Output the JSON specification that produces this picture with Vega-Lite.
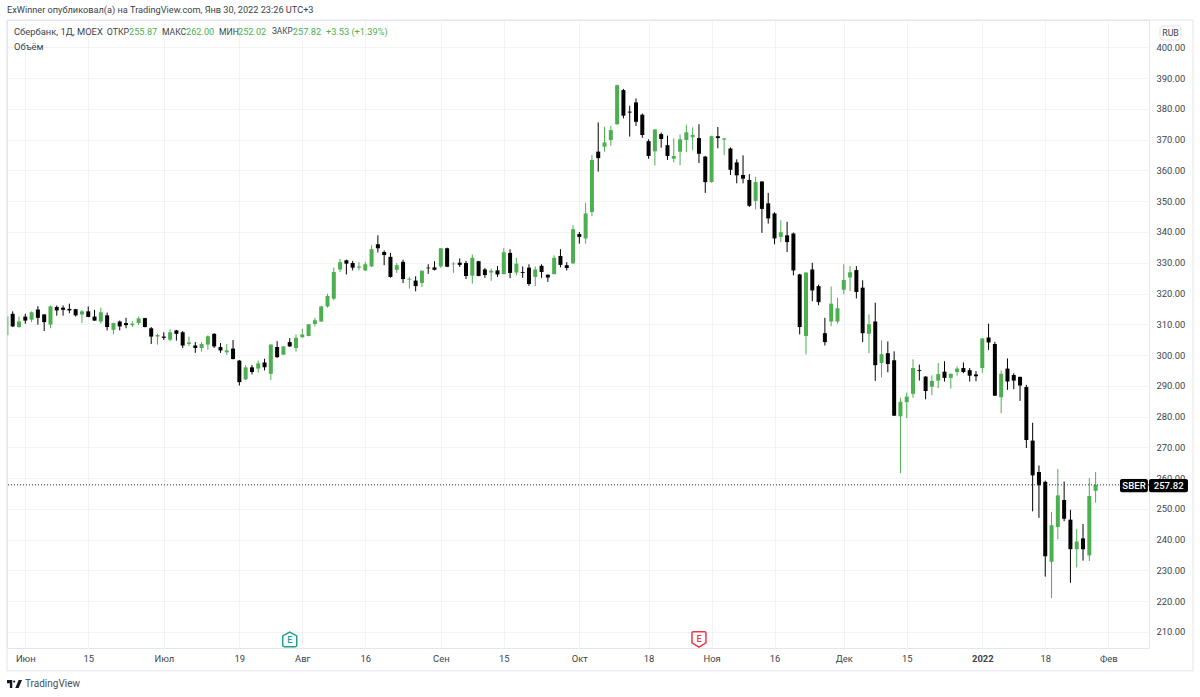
{"$schema":"https://vega.github.io/schema/vega-lite/v6.json","width":1142,"height":628,"autosize":{"type":"none"},"padding":{"left":7,"top":20,"right":51,"bottom":49},"background":"#ffffff","config":{"view":{"stroke":"#e3e5ec","strokeWidth":1},"font":"Roboto"},
"title":{"text":"ExWinner опубликовал(а) на TradingView.com, Янв 30, 2022 23:26 UTC+3","anchor":"start","frame":"group","offset":4,"fontSize":9.2,"fontWeight":"normal","color":"#3c3f4a","font":"Roboto"},
"datasets":{"one":[{}]},
"data":{"values":[
{"bar":0,"open":306.4,"high":312.6,"low":306.4,"close":312.5},
{"bar":1,"open":313.4,"high":314.2,"low":309.1,"close":309.3},{"bar":2,"open":309.1,"high":312.5,"low":308.9,"close":310.9},{"bar":3,"open":312.5,"high":313.4,"low":310.2,"close":311.2},{"bar":4,"open":311.5,"high":314.2,"low":310.7,"close":313.9},{"bar":5,"open":314.8,"high":315.9,"low":309.9,"close":312.1},{"bar":6,"open":313.2,"high":313.3,"low":307.8,"close":310.7},{"bar":7,"open":309.9,"high":316.1,"low":308.7,"close":315.8},{"bar":8,"open":315.6,"high":316.1,"low":312.8,"close":314.5},{"bar":9,"open":315.4,"high":316.1,"low":312.8,"close":314.7},{"bar":10,"open":315,"high":316.7,"low":313.6,"close":314.5},
{"bar":11,"open":314.9,"high":315,"low":312.5,"close":312.9},{"bar":12,"open":313.2,"high":314.7,"low":310.4,"close":314.2},{"bar":13,"open":314.2,"high":315.8,"low":312.3,"close":312.4},{"bar":14,"open":312.5,"high":314.7,"low":311.1,"close":311.2},{"bar":15,"open":310.9,"high":315.4,"low":310.2,"close":313.9},{"bar":16,"open":312.9,"high":313.8,"low":308,"close":309.1},{"bar":17,"open":308.2,"high":310.5,"low":306.7,"close":310.4},{"bar":18,"open":310.9,"high":311.2,"low":308,"close":309.3},{"bar":19,"open":310.4,"high":312.1,"low":308.7,"close":309.7},{"bar":20,"open":309.7,"high":311,"low":309.1,"close":310.2},
{"bar":21,"open":310.4,"high":312.5,"low":309.8,"close":311.9},{"bar":22,"open":312,"high":312.1,"low":309,"close":309.1},{"bar":23,"open":308.7,"high":309.1,"low":303.6,"close":306},{"bar":24,"open":306,"high":306.9,"low":303.4,"close":306.5},{"bar":25,"open":306,"high":307.4,"low":304.9,"close":305.6},{"bar":26,"open":305,"high":308.4,"low":304.5,"close":307.4},{"bar":27,"open":308,"high":308.2,"low":304.7,"close":306.9},{"bar":28,"open":307.4,"high":307.8,"low":302.3,"close":303.1},{"bar":29,"open":303.6,"high":306,"low":302.9,"close":304.1},{"bar":30,"open":303.1,"high":304.2,"low":300.7,"close":302.3},
{"bar":31,"open":302.3,"high":304.2,"low":301.1,"close":303.6},{"bar":32,"open":303.4,"high":306.4,"low":301.7,"close":306.1},{"bar":33,"open":306.9,"high":307.1,"low":302.3,"close":302.8},{"bar":34,"open":302.6,"high":303.9,"low":300.7,"close":301.5},{"bar":35,"open":300.9,"high":303.6,"low":300.1,"close":301.5},{"bar":36,"open":302.1,"high":304.9,"low":298.6,"close":298.7},{"bar":37,"open":298.2,"high":298.4,"low":290.1,"close":291.2},{"bar":38,"open":292.1,"high":296.8,"low":291.9,"close":296},{"bar":39,"open":296,"high":296.8,"low":293.7,"close":294.5},{"bar":40,"open":295.6,"high":298.2,"low":294.3,"close":297.3},
{"bar":41,"open":297.6,"high":298.8,"low":295,"close":296},{"bar":42,"open":293.9,"high":303.5,"low":291.9,"close":303.4},{"bar":43,"open":302.6,"high":304.5,"low":299.1,"close":299.3},{"bar":44,"open":300.1,"high":302.9,"low":300,"close":302.8},{"bar":45,"open":304.2,"high":305.5,"low":302.6,"close":302.8},{"bar":46,"open":302.3,"high":306.7,"low":301.1,"close":305.6},{"bar":47,"open":305.8,"high":308.5,"low":305.6,"close":306.7},{"bar":48,"open":306.2,"high":310.1,"low":306.1,"close":310},{"bar":49,"open":310.1,"high":312.1,"low":309.3,"close":311.3},{"bar":50,"open":310.9,"high":316,"low":310.8,"close":315.8},
{"bar":51,"open":315.8,"high":319.9,"low":315.4,"close":319.2},{"bar":52,"open":318.3,"high":328.4,"low":317.8,"close":327},{"bar":53,"open":327.8,"high":331.3,"low":327,"close":330.2},{"bar":54,"open":330.8,"high":331,"low":326.2,"close":329.7},{"bar":55,"open":329.9,"high":330.6,"low":327.5,"close":328.4},{"bar":56,"open":328.4,"high":330.2,"low":327.5,"close":328.8},{"bar":57,"open":327.5,"high":330.3,"low":327.3,"close":329.5},{"bar":58,"open":328.8,"high":335.7,"low":328.6,"close":334.4},{"bar":59,"open":336,"high":338.9,"low":333.3,"close":334.7},{"bar":60,"open":333.5,"high":334,"low":329.2,"close":332.5},
{"bar":61,"open":331.9,"high":333.2,"low":325.1,"close":325.4},{"bar":62,"open":327.7,"high":329.9,"low":326.7,"close":329.2},{"bar":63,"open":330.3,"high":331,"low":323.4,"close":324.7},{"bar":64,"open":324.5,"high":325.4,"low":321.6,"close":324.8},{"bar":65,"open":324.2,"high":325.6,"low":320.7,"close":322.4},{"bar":66,"open":323.4,"high":327.5,"low":322.1,"close":327.4},{"bar":67,"open":328.4,"high":329.5,"low":326.4,"close":328.2},{"bar":68,"open":328.5,"high":330.5,"low":327.5,"close":327.7},{"bar":69,"open":328.8,"high":334.8,"low":328.3,"close":334.7},{"bar":70,"open":334.7,"high":334.9,"low":328.6,"close":328.7},
{"bar":71,"open":329.5,"high":330.2,"low":326.7,"close":329.7},{"bar":72,"open":330,"high":331.4,"low":328.6,"close":329.3},{"bar":73,"open":329.9,"high":330.6,"low":324.7,"close":325.7},{"bar":74,"open":325.8,"high":332.7,"low":323.2,"close":331.6},{"bar":75,"open":330.5,"high":330.6,"low":325.6,"close":325.7},{"bar":76,"open":327.8,"high":328.3,"low":325.1,"close":326},{"bar":77,"open":326.8,"high":328.1,"low":324.1,"close":327.4},{"bar":78,"open":327.5,"high":328.9,"low":325.4,"close":326.2},{"bar":79,"open":326.3,"high":334.7,"low":326.2,"close":333.4},{"bar":80,"open":333.2,"high":334.4,"low":325,"close":326.7},
{"bar":81,"open":326.8,"high":331.6,"low":325.9,"close":329.7},{"bar":82,"open":327,"high":328.8,"low":325.1,"close":326.7},{"bar":83,"open":328.4,"high":329.5,"low":322.5,"close":323.1},{"bar":84,"open":325.4,"high":328.8,"low":322.4,"close":327.8},{"bar":85,"open":329,"high":329.5,"low":325.1,"close":327},{"bar":86,"open":326.1,"high":326.2,"low":323.8,"close":325.2},{"bar":87,"open":326.3,"high":332.4,"low":326.2,"close":331.6},{"bar":88,"open":332.2,"high":334.4,"low":328.5,"close":329.3},{"bar":89,"open":329.2,"high":330.2,"low":327.5,"close":328.3},{"bar":90,"open":329.8,"high":342.2,"low":329.6,"close":340.9},
{"bar":91,"open":339.3,"high":340,"low":336.2,"close":338.4},{"bar":92,"open":337.9,"high":349.5,"low":336.2,"close":346},{"bar":93,"open":346.5,"high":365,"low":345.1,"close":363.4},{"bar":94,"open":366.1,"high":375.6,"low":359.6,"close":364},{"bar":95,"open":367.7,"high":374.2,"low":366.1,"close":369.1},{"bar":96,"open":369.9,"high":374.5,"low":368,"close":373.1},{"bar":97,"open":375,"high":387.9,"low":374.9,"close":387.7},{"bar":98,"open":386.1,"high":386.5,"low":376.9,"close":377.8},{"bar":99,"open":379.1,"high":381,"low":371,"close":378.8},{"bar":100,"open":382.1,"high":383.4,"low":374.5,"close":375.8},
{"bar":101,"open":378.1,"high":378.5,"low":370.6,"close":371.5},{"bar":102,"open":369.5,"high":370.1,"low":363.8,"close":364.7},{"bar":103,"open":366.2,"high":373.4,"low":361.6,"close":373.3},{"bar":104,"open":371.8,"high":372.3,"low":367.4,"close":370.2},{"bar":105,"open":368.2,"high":371.3,"low":363.4,"close":364.7},{"bar":106,"open":363.8,"high":370.4,"low":362.6,"close":364.7},{"bar":107,"open":366.1,"high":371.7,"low":361.7,"close":370.1},{"bar":108,"open":369.9,"high":374.8,"low":365.9,"close":372.4},{"bar":109,"open":370.8,"high":374,"low":366.6,"close":371.5},{"bar":110,"open":370.5,"high":375,"low":362.4,"close":365.4},
{"bar":111,"open":364.5,"high":364.7,"low":352.7,"close":356.2},{"bar":112,"open":356.2,"high":371.3,"low":356,"close":371.1},{"bar":113,"open":371.1,"high":374.1,"low":367.2,"close":370.5},{"bar":114,"open":370,"high":370.5,"low":365,"close":370.4},{"bar":115,"open":367.1,"high":367.5,"low":358.5,"close":360.2},{"bar":116,"open":362.6,"high":363.6,"low":355.8,"close":358.4},{"bar":117,"open":358.5,"high":364.9,"low":355.8,"close":357.3},{"bar":118,"open":356.9,"high":358.8,"low":348.1,"close":348.5},{"bar":119,"open":350.1,"high":357.9,"low":347.3,"close":356.2},{"bar":120,"open":356.4,"high":356.5,"low":339.7,"close":347.5},
{"bar":121,"open":349.3,"high":352.7,"low":342.7,"close":344.4},{"bar":122,"open":346,"high":346.4,"low":336,"close":337.9},{"bar":123,"open":338.4,"high":343.8,"low":336.7,"close":339.9},{"bar":124,"open":338.9,"high":343.3,"low":333.5,"close":336.7},{"bar":125,"open":339.5,"high":339.8,"low":325.9,"close":327.5},{"bar":126,"open":326.2,"high":326.4,"low":306.7,"close":309.1},{"bar":127,"open":306.2,"high":327,"low":300.2,"close":326.8},{"bar":128,"open":327.8,"high":330,"low":317.5,"close":321},{"bar":129,"open":322.4,"high":322.9,"low":316.2,"close":317.2},{"bar":130,"open":307.1,"high":312.1,"low":303.1,"close":304.2},
{"bar":131,"open":310.9,"high":322.3,"low":309.4,"close":316.7},{"bar":132,"open":310.9,"high":318.6,"low":310.2,"close":315.2},{"bar":133,"open":321.2,"high":329.5,"low":319.7,"close":324.4},{"bar":134,"open":325.2,"high":328.9,"low":320.8,"close":326.9},{"bar":135,"open":327.6,"high":328.9,"low":318.4,"close":320.5},{"bar":136,"open":321.9,"high":324.3,"low":304.2,"close":307.1},{"bar":137,"open":306.9,"high":313.2,"low":300.6,"close":310},{"bar":138,"open":310.9,"high":317,"low":291.6,"close":296.7},{"bar":139,"open":297.4,"high":304.8,"low":292.7,"close":300.3},{"bar":140,"open":300.6,"high":304.4,"low":294.4,"close":297.1},
{"bar":141,"open":298.3,"high":301.2,"low":280.2,"close":280.3},{"bar":142,"open":280.1,"high":286.1,"low":261.6,"close":284.8},{"bar":143,"open":284.7,"high":287.8,"low":279.5,"close":286.5},{"bar":144,"open":287.4,"high":298.6,"low":286.1,"close":295.8},{"bar":145,"open":295.1,"high":296.9,"low":291.7,"close":294.8},{"bar":146,"open":293,"high":293.1,"low":285.6,"close":288.3},{"bar":147,"open":289.7,"high":293.4,"low":286.9,"close":291.6},{"bar":148,"open":291.7,"high":297.4,"low":289.3,"close":293.8},{"bar":149,"open":294.6,"high":298,"low":291.4,"close":292.6},{"bar":150,"open":292.6,"high":294,"low":289.1,"close":293.9},
{"bar":151,"open":294.5,"high":296.3,"low":293.3,"close":295.6},{"bar":152,"open":295.8,"high":297.6,"low":294.1,"close":294.5},{"bar":153,"open":295.1,"high":295.8,"low":291.4,"close":293.3},{"bar":154,"open":293.7,"high":294.8,"low":291.5,"close":293.1},{"bar":155,"open":295.8,"high":305.5,"low":294.2,"close":305.4},{"bar":156,"open":305.7,"high":310.2,"low":301.7,"close":304.1},{"bar":157,"open":303.6,"high":304.3,"low":286.7,"close":286.8},{"bar":158,"open":286.3,"high":295,"low":281.1,"close":293.9},{"bar":159,"open":295.6,"high":298.9,"low":288.7,"close":291.4},{"bar":160,"open":293.5,"high":294.1,"low":288.9,"close":291.7},
{"bar":161,"open":292.9,"high":293,"low":285.1,"close":290.1},{"bar":162,"open":289.6,"high":290.3,"low":269.8,"close":272.4},{"bar":163,"open":272.2,"high":278,"low":249.2,"close":260.9},{"bar":164,"open":262,"high":264.1,"low":247.1,"close":257.7},{"bar":165,"open":258.8,"high":259.2,"low":228,"close":234.6},{"bar":166,"open":232.8,"high":249,"low":221,"close":244.7},{"bar":167,"open":244.1,"high":263,"low":240.1,"close":254.4},{"bar":168,"open":252.9,"high":258.9,"low":246,"close":246.8},{"bar":169,"open":246.5,"high":249.7,"low":226,"close":236.9},{"bar":170,"open":236.9,"high":243.5,"low":231,"close":239.4},
{"bar":171,"open":240.4,"high":245.1,"low":233.2,"close":236.9},{"bar":172,"open":234.9,"high":260,"low":233.1,"close":254.2},{"bar":173,"open":255.87,"high":262,"low":252.02,"close":257.82}
]},
"layer":[
{"mark":{"type":"rule","clip":true,"strokeWidth":1},"encoding":{
"x":{"field":"bar","type":"quantitative","title":null,"scale":{"domain":[0.095,181.48],"nice":false,"zero":false,"padding":0},"axis":{"values":[3,13,25,37,47,57,69,79,91,102,112,122,133,143,155,165,175],"tickCount":40,"labelExpr":"{'3':'Июн','13':'15','25':'Июл','37':'19','47':'Авг','57':'16','69':'Сен','79':'15','91':'Окт','102':'18','112':'Ноя','122':'16','133':'Дек','143':'15','155':'2022','165':'18','175':'Фев'}[''+datum.value]","grid":true,"gridColor":"#f3f3f6","gridWidth":1,"domain":false,"ticks":false,"labelPadding":6,"labelFontSize":9.4,"labelColor":"#3c3f4a","labelFont":"Roboto","labelFontWeight":{"condition":{"test":"datum.value==155","value":"bold"},"value":"normal"},"labelOverlap":false,"labelFlush":false}},
"y":{"field":"low","type":"quantitative","title":null,"scale":{"domain":[204.8,408.88],"nice":false,"zero":false},"axis":{"orient":"right","values":[210,220,230,240,250,260,270,280,290,300,310,320,330,340,350,360,370,380,390,400],"tickCount":40,"format":".2f","grid":true,"gridColor":"#f3f3f6","gridWidth":1,"domain":false,"ticks":false,"labelPadding":7,"labelFontSize":9.4,"labelColor":"#3c3f4a","labelFont":"Roboto","labelOverlap":false,"labelFlush":false}},
"y2":{"field":"high"},
"color":{"condition":{"test":"datum.close>=datum.open","value":"#4caf50"},"value":"#000000"}}},
{"mark":{"type":"bar","size":4,"clip":true},"encoding":{"x":{"field":"bar","type":"quantitative"},"y":{"field":"open","type":"quantitative"},"y2":{"field":"close"},"color":{"condition":{"test":"datum.close>=datum.open","value":"#4caf50"},"value":"#000000"}}},
{"data":{"name":"one"},"mark":{"type":"rule","stroke":"#2a2e39","strokeDash":[1,2],"strokeWidth":1},"encoding":{"y":{"datum":257.82,"type":"quantitative"}}},
{"data":{"name":"one"},"mark":{"type":"rect","fill":null,"stroke":"#e3e5ec","strokeWidth":1},"encoding":{"x":{"datum":0.095,"type":"quantitative"},"x2":{"datum":188.47},"y":{"datum":197.4,"type":"quantitative"},"y2":{"datum":408.88}}},
{"data":{"name":"one"},"mark":{"type":"rect","fill":"#000000","cornerRadius":2},"encoding":{"x":{"datum":176.87,"type":"quantitative"},"x2":{"datum":181.3},"y":{"datum":255.4,"type":"quantitative"},"y2":{"datum":259.75}}},
{"data":{"name":"one"},"mark":{"type":"rect","fill":"#000000","cornerRadius":2},"encoding":{"x":{"datum":181.48,"type":"quantitative"},"x2":{"datum":187.67},"y":{"datum":255.4,"type":"quantitative"},"y2":{"datum":259.75}}},
{"data":{"name":"one"},"mark":{"type":"text","color":"#ffffff","fontSize":9.6,"font":"Roboto","fontWeight":500},"encoding":{"x":{"datum":179.1,"type":"quantitative"},"y":{"datum":257.6,"type":"quantitative"},"text":{"value":"SBER"}}},
{"data":{"name":"one"},"mark":{"type":"text","color":"#ffffff","fontSize":9.6,"font":"Roboto","fontWeight":500},"encoding":{"x":{"datum":184.6,"type":"quantitative"},"y":{"datum":257.6,"type":"quantitative"},"text":{"value":"257.82"}}},
{"data":{"name":"one"},"mark":{"type":"rect","fill":"#ffffff","stroke":"#e0e3eb","strokeWidth":1,"cornerRadius":3},"encoding":{"x":{"datum":183.23,"type":"quantitative"},"x2":{"datum":186.56},"y":{"datum":402.38,"type":"quantitative"},"y2":{"datum":406.93}}},
{"data":{"name":"one"},"mark":{"type":"text","color":"#3c3f4a","fontSize":8.8,"font":"Roboto"},"encoding":{"x":{"datum":184.9,"type":"quantitative"},"y":{"datum":404.65,"type":"quantitative"},"text":{"value":"RUB"}}},
{"data":{"name":"one"},"mark":{"type":"text","align":"left","color":"#3c3f4a","fontSize":9.4,"font":"Roboto"},"encoding":{"x":{"datum":1.21,"type":"quantitative"},"y":{"datum":404.98,"type":"quantitative"},"text":{"value":"Сбербанк, 1Д, MOEX"}}},
{"data":{"name":"one"},"mark":{"type":"text","align":"left","color":"#3c3f4a","fontSize":8.8,"font":"Roboto"},"encoding":{"x":{"datum":15.93,"type":"quantitative"},"y":{"datum":404.98,"type":"quantitative"},"text":{"value":"ОТКР"}}},
{"data":{"name":"one"},"mark":{"type":"text","align":"left","color":"#4caf50","fontSize":9.2,"font":"Roboto"},"encoding":{"x":{"datum":19.47,"type":"quantitative"},"y":{"datum":404.98,"type":"quantitative"},"text":{"value":"255.87"}}},
{"data":{"name":"one"},"mark":{"type":"text","align":"left","color":"#3c3f4a","fontSize":8.6,"font":"Roboto"},"encoding":{"x":{"datum":24.71,"type":"quantitative"},"y":{"datum":404.98,"type":"quantitative"},"text":{"value":"МАКС"}}},
{"data":{"name":"one"},"mark":{"type":"text","align":"left","color":"#4caf50","fontSize":9.2,"font":"Roboto"},"encoding":{"x":{"datum":28.53,"type":"quantitative"},"y":{"datum":404.98,"type":"quantitative"},"text":{"value":"262.00"}}},
{"data":{"name":"one"},"mark":{"type":"text","align":"left","color":"#3c3f4a","fontSize":8.6,"font":"Roboto"},"encoding":{"x":{"datum":33.77,"type":"quantitative"},"y":{"datum":404.98,"type":"quantitative"},"text":{"value":"МИН"}}},
{"data":{"name":"one"},"mark":{"type":"text","align":"left","color":"#4caf50","fontSize":9.2,"font":"Roboto"},"encoding":{"x":{"datum":36.79,"type":"quantitative"},"y":{"datum":404.98,"type":"quantitative"},"text":{"value":"252.02"}}},
{"data":{"name":"one"},"mark":{"type":"text","align":"left","color":"#3c3f4a","fontSize":8.2,"font":"Roboto"},"encoding":{"x":{"datum":42.18,"type":"quantitative"},"y":{"datum":404.98,"type":"quantitative"},"text":{"value":"ЗАКР"}}},
{"data":{"name":"one"},"mark":{"type":"text","align":"left","color":"#4caf50","fontSize":9.2,"font":"Roboto"},"encoding":{"x":{"datum":45.5,"type":"quantitative"},"y":{"datum":404.98,"type":"quantitative"},"text":{"value":"257.82"}}},
{"data":{"name":"one"},"mark":{"type":"text","align":"left","color":"#4caf50","fontSize":9.2,"font":"Roboto"},"encoding":{"x":{"datum":50.76,"type":"quantitative"},"y":{"datum":404.98,"type":"quantitative"},"text":{"value":"+3.53 (+1.39%)"}}},
{"data":{"name":"one"},"mark":{"type":"text","align":"left","color":"#3c3f4a","fontSize":9.4,"font":"Roboto"},"encoding":{"x":{"datum":1.21,"type":"quantitative"},"y":{"datum":400.26,"type":"quantitative"},"text":{"value":"Объём"}}},
{"data":{"name":"one"},"mark":{"type":"point","filled":true,"fill":"#ffffff","stroke":"#1ba08d","strokeWidth":1.5,"opacity":1,"size":196,"shape":"M0,-1.05 L1,-0.5 L1,0.85 Q1,1.05 0.8,1.05 L-0.8,1.05 Q-1,1.05 -1,0.85 L-1,-0.5 Z"},"encoding":{"x":{"datum":45,"type":"quantitative"},"y":{"datum":207.6,"type":"quantitative"}}},
{"data":{"name":"one"},"mark":{"type":"text","color":"#1ba08d","fontSize":9,"font":"Roboto","fontWeight":500},"encoding":{"x":{"datum":45,"type":"quantitative"},"y":{"datum":207.4,"type":"quantitative"},"text":{"value":"E"}}},
{"data":{"name":"one"},"mark":{"type":"point","filled":true,"fill":"#ffffff","stroke":"#f23645","strokeWidth":1.5,"opacity":1,"size":196,"shape":"M-0.8,-1.1 L0.8,-1.1 Q1,-1.1 1,-0.9 L1,0.5 L0,1.1 L-1,0.5 L-1,-0.9 Q-1,-1.1 -0.8,-1.1 Z"},"encoding":{"x":{"datum":110,"type":"quantitative"},"y":{"datum":207.6,"type":"quantitative"}}},
{"data":{"name":"one"},"mark":{"type":"text","color":"#f23645","fontSize":9,"font":"Roboto","fontWeight":500},"encoding":{"x":{"datum":110,"type":"quantitative"},"y":{"datum":207.8,"type":"quantitative"},"text":{"value":"E"}}},
{"data":{"name":"one"},"mark":{"type":"point","filled":true,"fill":"#131722","stroke":null,"opacity":1,"size":225,"shape":"M-1,-0.53 L-0.3,-0.53 L-0.3,0.53 L-0.62,0.53 L-0.62,-0.1 L-1,-0.1 Z M-0.18,-0.32 A0.14,0.14 0 1 1 0.1,-0.32 A0.14,0.14 0 1 1 -0.18,-0.32 Z M0.55,-0.53 L1,-0.53 L0.55,0.53 L0.1,0.53 Z"},"encoding":{"x":{"datum":1.29,"type":"quantitative"},"y":{"datum":193.13,"type":"quantitative"}}},
{"data":{"name":"one"},"mark":{"type":"text","align":"left","color":"#4a4e59","fontSize":10,"font":"Roboto"},"encoding":{"x":{"datum":2.95,"type":"quantitative"},"y":{"datum":193.13,"type":"quantitative"},"text":{"value":"TradingView"}}}
]}
